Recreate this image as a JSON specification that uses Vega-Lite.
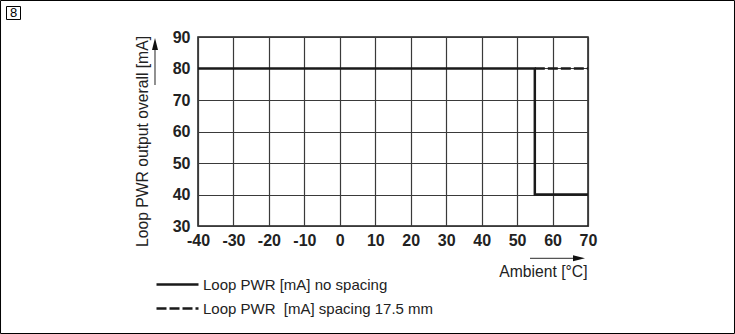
{
  "$schema": "https://vega.github.io/schema/vega-lite/v6.json",
  "width": 390,
  "height": 189,
  "autosize": {"type": "none"},
  "padding": {"left": 198, "top": 37, "right": 147, "bottom": 108},
  "background": "white",
  "config": {
    "font": "Liberation Sans",
    "view": {"stroke": "#1a1a1a", "strokeWidth": 1.5},
    "axis": {
      "grid": true, "gridColor": "#3a3a3a", "gridWidth": 1.2, "gridOpacity": 1,
      "domain": false, "ticks": false,
      "labelFont": "Liberation Sans", "labelFontWeight": "bold", "labelFontSize": 16, "labelColor": "#222",
      "labelFlush": false, "labelOverlap": false,
      "titleFont": "Liberation Sans", "titleFontWeight": "normal", "titleFontSize": 15.7, "titleColor": "#222"
    }
  },
  "resolve": {"axis": {"x": "independent", "y": "independent"}},
  "layer": [
    {
      "data": {"values": [
        {"series": "Loop PWR [mA] no spacing", "i": 1, "t": -40, "current": 80},
        {"series": "Loop PWR [mA] no spacing", "i": 2, "t": 55, "current": 80},
        {"series": "Loop PWR [mA] no spacing", "i": 3, "t": 55, "current": 40},
        {"series": "Loop PWR [mA] no spacing", "i": 4, "t": 70, "current": 40},
        {"series": "Loop PWR \u00a0[mA] spacing 17.5 mm", "i": 1, "t": 55, "current": 80},
        {"series": "Loop PWR \u00a0[mA] spacing 17.5 mm", "i": 2, "t": 70, "current": 80}
      ]},
      "mark": {"type": "line", "strokeWidth": 2.5, "color": "#1a1a1a"},
      "encoding": {
        "x": {"field": "t", "type": "quantitative",
          "scale": {"domain": [-40, 70], "nice": false, "zero": false},
          "axis": {"values": [-40, -30, -20, -10, 0, 10, 20, 30, 40, 50, 60, 70],
            "labelExpr": "'' + datum.value",
            "title": "Ambient [°C]", "titleX": 389, "titleY": 50, "titleAlign": "right",
            "titleBaseline": "alphabetic", "labelPadding": 6}},
        "y": {"field": "current", "type": "quantitative",
          "scale": {"domain": [30, 90], "nice": false, "zero": false},
          "axis": {"values": [30, 40, 50, 60, 70, 80, 90],
            "title": "Loop PWR output overall [mA]", "titleX": -51, "titleY": 104,
            "titleAlign": "center", "titleAngle": -90, "titleBaseline": "alphabetic", "labelPadding": 8}},
        "strokeDash": {"field": "series", "type": "nominal",
          "scale": {"domain": ["Loop PWR [mA] no spacing", "Loop PWR \u00a0[mA] spacing 17.5 mm"], "range": [[1, 0], [10, 3]]},
          "legend": {"title": null, "orient": "none", "legendX": -43, "legendY": 240, "padding": 0,
            "symbolType": "stroke", "symbolSize": 1764, "symbolStrokeWidth": 2.5, "symbolStrokeColor": "#1a1a1a",
            "labelFont": "Liberation Sans", "labelFontSize": 15, "labelColor": "#222", "labelOffset": 3,
            "labelLimit": 400, "clipHeight": 15, "rowPadding": 8}},
        "order": {"field": "i"}
      }
    },
    {
      "data": {"values": [{}]},
      "mark": {"type": "rect", "fillOpacity": 0, "stroke": "#000", "strokeWidth": 1},
      "encoding": {
        "x": {"datum": -95.7, "type": "quantitative", "axis": null},
        "x2": {"datum": 111.32},
        "y": {"datum": 101.59, "type": "quantitative", "axis": null},
        "y2": {"datum": -4.13}
      }
    },
    {
      "data": {"values": [{}]},
      "mark": {"type": "rect", "fillOpacity": 0, "stroke": "#000", "strokeWidth": 1},
      "encoding": {
        "x": {"datum": -94.01, "type": "quantitative", "axis": null},
        "x2": {"datum": -90.06},
        "y": {"datum": 99.68, "type": "quantitative", "axis": null},
        "y2": {"datum": 95.56}
      }
    },
    {
      "data": {"values": [{}]},
      "mark": {"type": "text", "text": "8", "fontSize": 13, "font": "Liberation Sans", "align": "center", "baseline": "middle", "color": "#000"},
      "encoding": {
        "x": {"datum": -92.04, "type": "quantitative", "axis": null},
        "y": {"datum": 97.62, "type": "quantitative", "axis": null}
      }
    },
    {
      "data": {"values": [{}]},
      "mark": {"type": "rule", "stroke": "#555", "strokeWidth": 1.3},
      "encoding": {
        "x": {"datum": -52.13, "type": "quantitative", "axis": null},
        "y": {"datum": 74.76, "type": "quantitative", "axis": null},
        "y2": {"datum": 86.51}
      }
    },
    {
      "data": {"values": [{}]},
      "mark": {"type": "point", "shape": "M0,-1L0.5,1L-0.5,1Z", "size": 144, "filled": true, "color": "#111", "opacity": 1},
      "encoding": {
        "x": {"datum": -52.13, "type": "quantitative", "axis": null},
        "y": {"datum": 87.78, "type": "quantitative", "axis": null}
      }
    },
    {
      "data": {"values": [{}]},
      "mark": {"type": "rule", "stroke": "#555", "strokeWidth": 1.3},
      "encoding": {
        "x": {"datum": 53.64, "type": "quantitative", "axis": null},
        "x2": {"datum": 66.33},
        "y": {"datum": 19.75, "type": "quantitative", "axis": null}
      }
    },
    {
      "data": {"values": [{}]},
      "mark": {"type": "point", "shape": "M1,0L-1,-0.5L-1,0.5Z", "size": 144, "filled": true, "color": "#111", "opacity": 1},
      "encoding": {
        "x": {"datum": 67.46, "type": "quantitative", "axis": null},
        "y": {"datum": 19.75, "type": "quantitative", "axis": null}
      }
    }
  ]
}
